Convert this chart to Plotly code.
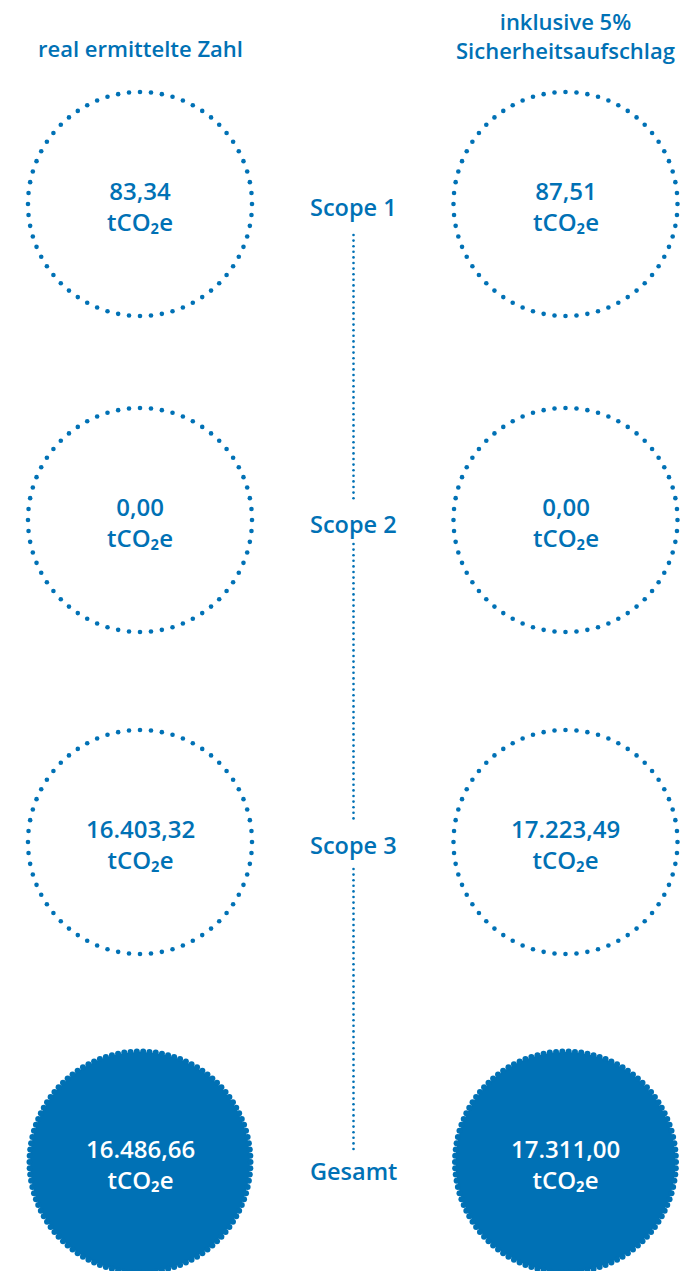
import numpy as np
import plotly.graph_objects as go

# ---------------- data ----------------
categories = ["Scope 1", "Scope 2", "Scope 3", "Gesamt"]
real_values = [83.34, 0.00, 16403.32, 16486.66]
buffer_values = [87.51, 0.00, 17223.49, 17311.00]
column_headers = ["real ermittelte Zahl", "inklusive 5%<br>Sicherheitsaufschlag"]
unit = "tCO₂e"

# ---------------- layout constants (pixel space) ----------------
W, H = 688, 1271
BLUE = "#0071B5"
FONT = "Open Sans"
col_x = [140, 565.5]
row_y = [204, 520, 842, 1162]
label_y = [207, 524, 845, 1171]
center_x = 353.5
R = 112


def de_fmt(v):
    s = f"{v:,.2f}"
    return s.replace(",", "X").replace(".", ",").replace("X", ".")


fig = go.Figure()

# dotted rings (open) and scalloped discs (total)
for ri, cat in enumerate(categories):
    total = ri == len(categories) - 1
    for ci in range(2):
        cx, cy = col_x[ci], row_y[ri]
        if not total:
            n = 64
            t = np.linspace(0, 2 * np.pi, n, endpoint=False)
            fig.add_trace(go.Scatter(
                x=cx + R * np.cos(t), y=cy + R * np.sin(t), mode="markers",
                marker=dict(size=4.6, color=BLUE, line=dict(width=0)),
                hoverinfo="skip", showlegend=False))
        else:
            fig.add_shape(type="circle", xref="x", yref="y",
                          x0=cx - 110, x1=cx + 110, y0=cy - 110, y1=cy + 110,
                          fillcolor=BLUE, line=dict(width=0), layer="below")
            n = 110
            t = np.linspace(0, 2 * np.pi, n, endpoint=False)
            fig.add_trace(go.Scatter(
                x=cx + 110.5 * np.cos(t), y=cy + 110.5 * np.sin(t), mode="markers",
                marker=dict(size=6, color=BLUE, line=dict(width=0)),
                hoverinfo="skip", showlegend=False))

# vertical dotted connector
segments = [(235, 503), (544, 823), (869, 1150)]
vy = np.concatenate([np.arange(a, b + 0.1, 5.6) for a, b in segments])
fig.add_trace(go.Scatter(
    x=np.full(len(vy), center_x), y=vy, mode="markers",
    marker=dict(size=2.6, color=BLUE, line=dict(width=0)),
    hoverinfo="skip", showlegend=False))

annotations = []
# column headers
annotations.append(dict(x=col_x[0], y=48, text=column_headers[0]))
annotations.append(dict(x=col_x[1], y=35, text=column_headers[1]))
for a in annotations:
    a.update(font=dict(family=FONT, size=22, color=BLUE, weight=600))

# scope labels
for ri, cat in enumerate(categories):
    annotations.append(dict(x=center_x, y=label_y[ri], text=cat,
                            font=dict(family=FONT, size=23.5, color=BLUE, weight=600)))

# values
for ri in range(len(categories)):
    total = ri == len(categories) - 1
    for ci, vals in enumerate([real_values, buffer_values]):
        annotations.append(dict(
            x=col_x[ci], y=row_y[ri] + 1.5,
            text=f"{de_fmt(vals[ri])}<br>{unit}",
            font=dict(family=FONT, size=24, color="white" if total else BLUE, weight=600)))

for a in annotations:
    a.update(xref="x", yref="y", showarrow=False, xanchor="center", yanchor="middle")

fig.update_layout(
    width=W, height=H, autosize=False,
    margin=dict(l=0, r=0, t=0, b=0),
    paper_bgcolor="white", plot_bgcolor="white",
    xaxis=dict(range=[0, W], visible=False, fixedrange=True),
    yaxis=dict(range=[H, 0], visible=False, fixedrange=True),
    annotations=annotations,
)

fig.write_html("out.html", config={"displayModeBar": False},
               post_script="document.body.style.margin='0';")
